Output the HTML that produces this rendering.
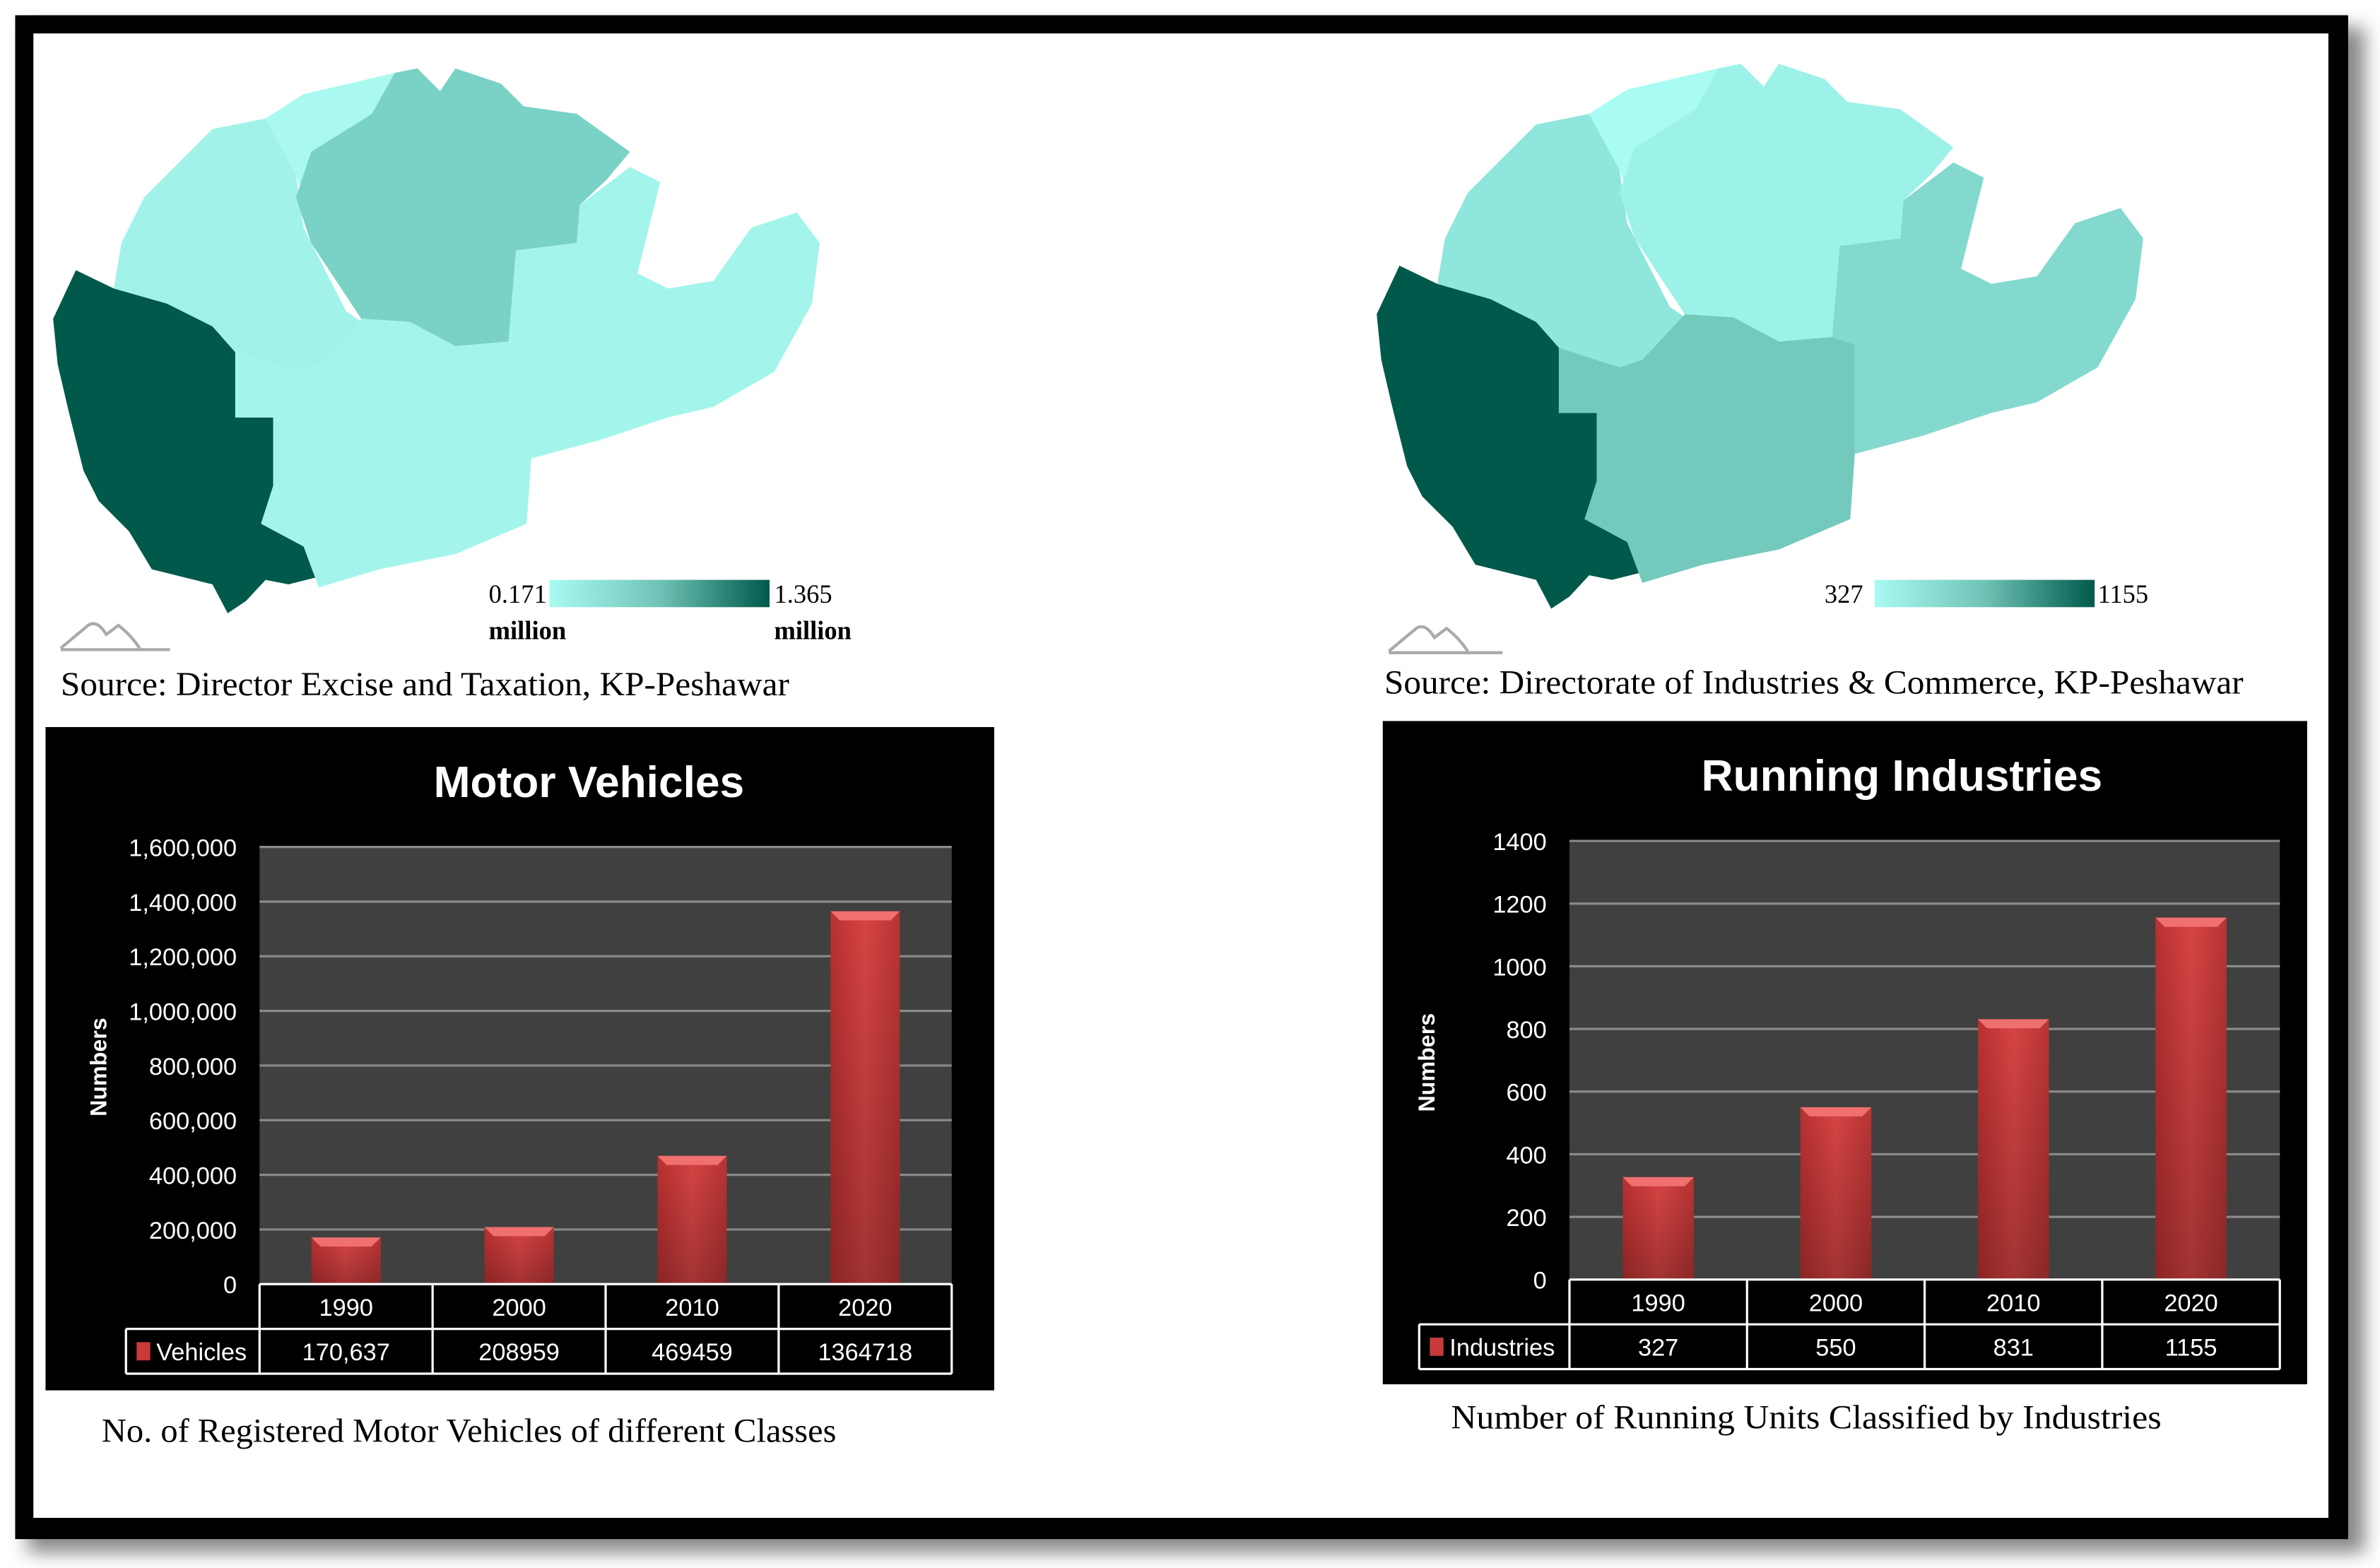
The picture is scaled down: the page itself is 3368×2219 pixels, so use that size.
<!DOCTYPE html>
<html><head><meta charset="utf-8"><style>
html,body{margin:0;padding:0;background:#fff;}
svg{display:block;}
.serif{font-family:"Liberation Serif",serif;}
.sans{font-family:"Liberation Sans",sans-serif;}
</style></head><body>
<svg id="root" width="3368" height="2219" viewBox="0 0 1568 1033" xmlns="http://www.w3.org/2000/svg">
<defs>
<linearGradient id="leg" x1="0" x2="1"><stop offset="0" stop-color="#a9fbf2"/><stop offset="0.5" stop-color="#6fc3b6"/><stop offset="1" stop-color="#00594b"/></linearGradient>
<linearGradient id="bar" x1="0" x2="1"><stop offset="0" stop-color="#b83030"/><stop offset="0.5" stop-color="#d84444"/><stop offset="1" stop-color="#b83434"/></linearGradient>
<linearGradient id="barv" x1="0" y1="0" x2="0" y2="1"><stop offset="0" stop-color="#000" stop-opacity="0"/><stop offset="1" stop-color="#000" stop-opacity="0.25"/></linearGradient>
<filter id="sh" x="-5%" y="-5%" width="115%" height="115%"><feGaussianBlur stdDeviation="6"/></filter>
</defs>
<rect x="18" y="18" width="1540" height="1005" fill="#888" filter="url(#sh)"/>
<rect x="10" y="10" width="1537" height="1004" fill="#000"/>
<rect x="22" y="22" width="1512" height="978" fill="#fff"/>

<g id="mapL">
<polygon fill="#00594b" points="50,178 75,190 110,200 140,215 155,232 155,275 180,275 180,320 172,345 200,360 210,380 190,385 175,382 162,396 150,404 140,385 100,375 85,350 65,330 55,310 45,270 38,240 35,210"/>
<polygon fill="#a1f3ea" points="75,190 80,160 95,130 115,110 140,85 175,78 195,115 200,150 228,205 238,212 210,240 195,245 155,232 140,215 110,200"/>
<polygon fill="#a9f9f0" points="175,78 200,62 230,55 260,48 245,75 205,100 200,130 195,115"/>
<polygon fill="#7ad1c6" points="205,100 245,75 260,48 275,45 290,60 300,45 330,55 345,70 380,75 415,100 400,118 382,135 380,160 340,165 335,225 300,228 270,212 238,210 205,160 195,130"/>
<polygon fill="#a3f5ec" points="382,135 415,110 435,120 420,180 440,190 470,185 495,150 525,140 540,160 535,200 510,245 470,268 440,275 395,290 350,302 350,230 335,225 340,165 380,160"/>
<polygon fill="#a3f5ec" points="210,240 238,210 270,212 300,228 335,225 350,230 350,302 347,345 300,365 250,375 210,387 200,360 172,345 180,320 180,275 155,275 155,232 195,245"/>
</g>
<g transform="translate(872,-3)">
<polygon fill="#00594b" points="50,178 75,190 110,200 140,215 155,232 155,275 180,275 180,320 172,345 200,360 210,380 190,385 175,382 162,396 150,404 140,385 100,375 85,350 65,330 55,310 45,270 38,240 35,210"/>
<polygon fill="#8fe6dc" points="75,190 80,160 95,130 115,110 140,85 175,78 195,115 200,150 228,205 238,212 210,240 195,245 155,232 140,215 110,200"/>
<polygon fill="#a8fcf3" points="175,78 200,62 230,55 260,48 245,75 205,100 200,130 195,115"/>
<polygon fill="#9cf2e8" points="205,100 245,75 260,48 275,45 290,60 300,45 330,55 345,70 380,75 415,100 400,118 382,135 380,160 340,165 335,225 300,228 270,212 238,210 205,160 195,130"/>
<polygon fill="#84d9cf" points="382,135 415,110 435,120 420,180 440,190 470,185 495,150 525,140 540,160 535,200 510,245 470,268 440,275 395,290 350,302 350,230 335,225 340,165 380,160"/>
<polygon fill="#74c9bd" points="210,240 238,210 270,212 300,228 335,225 350,230 350,302 347,345 300,365 250,375 210,387 200,360 172,345 180,320 180,275 155,275 155,232 195,245"/>
</g>

<g class="serif" font-size="17">
<rect x="362" y="382" width="145" height="18" fill="url(#leg)"/>
<text x="322" y="397">0.171</text>
<text x="510" y="397">1.365</text>
<text x="322" y="421" font-weight="bold">million</text>
<text x="510" y="421" font-weight="bold">million</text>
</g>
<g class="serif" font-size="17">
<rect x="1235" y="382" width="145" height="18" fill="url(#leg)"/>
<text x="1202" y="397">327</text>
<text x="1382" y="397">1155</text>
</g>
<path d="M40,427 L58,412 Q64,408 70,418 L78,412 Q86,418 92,427 M40,428 H112" fill="none" stroke="#aaa" stroke-width="2"/>
<path d="M915,429 L933,414 Q939,410 945,420 L953,414 Q961,420 967,429 M915,430 H990" fill="none" stroke="#aaa" stroke-width="2"/>
<text x="40" y="458" class="serif" font-size="22" textLength="480" lengthAdjust="spacingAndGlyphs">Source: Director Excise and Taxation, KP-Peshawar</text>
<text x="912" y="457" class="serif" font-size="22" textLength="566" lengthAdjust="spacingAndGlyphs">Source: Directorate of Industries &amp; Commerce, KP-Peshawar</text>
<text x="67" y="950" class="serif" font-size="22" textLength="484" lengthAdjust="spacingAndGlyphs">No. of Registered Motor Vehicles of different Classes</text>
<text x="956" y="941" class="serif" font-size="22" textLength="468" lengthAdjust="spacingAndGlyphs">Number of Running Units Classified by Industries</text>
<g id="charts"></g>
</svg>
<script>
const vehCategories = ["1990","2000","2010","2020"];
const vehValues = [170637, 208959, 469459, 1364718];
const vehLabels = ["170,637","208959","469459","1364718"];
const vehTicks = [0,200000,400000,600000,800000,1000000,1200000,1400000,1600000];
const vehTickLabels = ["0","200,000","400,000","600,000","800,000","1,000,000","1,200,000","1,400,000","1,600,000"];
const indCategories = ["1990","2000","2010","2020"];
const indValues = [327, 550, 831, 1155];
const indLabels = ["327","550","831","1155"];
const indTicks = [0,200,400,600,800,1000,1200,1400];
const indTickLabels = ["0","200","400","600","800","1000","1200","1400"];

const NS="http://www.w3.org/2000/svg";
function mk(parent,tag,attrs,text){const e=document.createElementNS(NS,tag);for(const k in attrs)e.setAttribute(k,attrs[k]);if(text!==undefined)e.textContent=text;parent.appendChild(e);return e;}

function chart(cfg,cats,vals,labels,ticks,tickLabels){
  const root=document.getElementById('charts');
  const g=mk(root,'g',{});
  
  
  const bg=mk(g,'rect',{x:cfg.bx,y:cfg.by,width:cfg.bw,height:cfg.bh,fill:'#000'});
  
  
  const t=mk(g,'text',{x:cfg.tx,y:cfg.ty,'text-anchor':'middle',fill:'#fff','font-size':29,'font-weight':'bold','class':'sans'},cfg.title);
  
  
  const pl=mk(g,'rect',{x:cfg.px0,y:cfg.py0,width:cfg.px1-cfg.px0,height:cfg.py1-cfg.py0,fill:'#404040'});
  
  
  const maxV=ticks[ticks.length-1];
  const y=v=>cfg.py1-(v/maxV)*(cfg.py1-cfg.py0);
  const colW=(cfg.px1-cfg.px0)/cats.length;
  const x=i=>cfg.px0+colW*i;
  ticks.forEach((tv,i)=>{
    if(i>0){const l=mk(g,'line',{x1:cfg.px0,x2:cfg.px1,y1:y(tv),y2:y(tv),stroke:'#8a8a8a','stroke-width':1.5});
    
    }
    const tl=mk(g,'text',{x:cfg.px0-15,y:y(tv)+6,'text-anchor':'end',fill:'#fff','font-size':16,'class':'sans'},tickLabels[i]);
    
    
  });
  const yt=mk(g,'text',{x:0,y:0,transform:`translate(${cfg.ytx},${cfg.yty}) rotate(-90)`,'text-anchor':'middle',fill:'#fff','font-size':15,'font-weight':'bold','class':'sans'},'Numbers');
  
  
  const bw=colW*0.4;
  vals.forEach((v,i)=>{
    const bx=x(i)+(colW-bw)/2, by=y(v), bh=cfg.py1-by;
    const b=mk(g,'rect',{x:bx,y:by,width:bw,height:bh,fill:'url(#bar)'});
    
    
    const s=mk(g,'rect',{x:bx,y:by,width:bw,height:bh,fill:'url(#barv)'});
    
    
    const tp=mk(g,'polygon',{points:`${bx},${by} ${bx+bw},${by} ${bx+bw-6},${by+6} ${bx+6},${by+6}`,fill:'#f07070'});
    
    
  });
  const rh=cfg.rh, r0=cfg.py1, r1=r0+rh, r2=r1+rh;
  const grid=mk(g,'g',{stroke:'#fff','stroke-width':1.5,fill:'none'});
  
  
  mk(grid,'line',{x1:cfg.px0,x2:cfg.px1,y1:r0,y2:r0});
  mk(grid,'line',{x1:cfg.lx,x2:cfg.px1,y1:r1,y2:r1});
  mk(grid,'line',{x1:cfg.lx,x2:cfg.px1,y1:r2,y2:r2});
  mk(grid,'line',{x1:cfg.lx,x2:cfg.lx,y1:r1,y2:r2});
  for(let i=0;i<=cats.length;i++)mk(grid,'line',{x1:x(i),x2:x(i),y1:r0,y2:r2});
  cats.forEach((c,i)=>{
    const ct=mk(g,'text',{x:x(i)+colW/2,y:r0+rh/2+6,'text-anchor':'middle',fill:'#fff','font-size':16,'class':'sans'},c);
    
    
    const vt=mk(g,'text',{x:x(i)+colW/2,y:r1+rh/2+6,'text-anchor':'middle',fill:'#fff','font-size':16,'class':'sans'},labels[i]);
    
    
  });
  const key=mk(g,'rect',{x:cfg.lx+7,y:r1+rh/2-6,width:9,height:12,fill:'#c83a3a'});
  
  
  const kt=mk(g,'text',{x:cfg.lx+20,y:r1+rh/2+6,fill:'#fff','font-size':16,'class':'sans'},cfg.series);
  
  
}
chart({name:'motor-vehicles-chart',title:'Motor Vehicles',series:'Vehicles',bx:30,by:479,bw:625,bh:437,tx:388,ty:525,px0:171,px1:627,py0:558,py1:846,rh:29.5,lx:83,ytx:70,yty:703},vehCategories,vehValues,vehLabels,vehTicks,vehTickLabels);
chart({name:'running-industries-chart',title:'Running Industries',series:'Industries',bx:911,by:475,bw:609,bh:437,tx:1253,ty:521,px0:1034,px1:1502,py0:554,py1:843,rh:29.5,lx:935,ytx:945,yty:700},indCategories,indValues,indLabels,indTicks,indTickLabels);
</script>
</body></html>
